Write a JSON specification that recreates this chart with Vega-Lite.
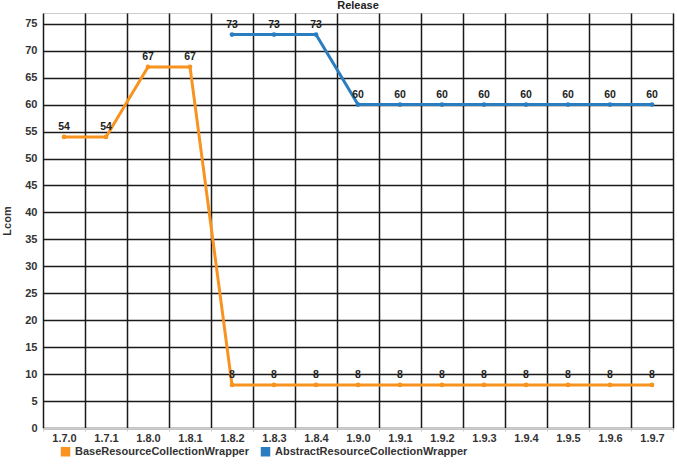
{
  "$schema": "https://vega.github.io/schema/vega-lite/v6.json",
  "width": 630,
  "height": 415,
  "autosize": {"type": "none"},
  "padding": {"left": 43, "top": 13, "right": 4, "bottom": 37},
  "background": "white",
  "title": {"text": "Release", "fontSize": 11, "font": "Liberation Sans", "fontWeight": "bold", "color": "#222", "offset": 2},
  "config": {
    "view": {"stroke": "#cccccc", "strokeWidth": 1},
    "font": "Liberation Sans"
  },
  "data": {
    "values": [
      {"release": "1.7.0", "series": "BaseResourceCollectionWrapper", "lcom": 54},
      {"release": "1.7.1", "series": "BaseResourceCollectionWrapper", "lcom": 54},
      {"release": "1.8.0", "series": "BaseResourceCollectionWrapper", "lcom": 67},
      {"release": "1.8.1", "series": "BaseResourceCollectionWrapper", "lcom": 67},
      {"release": "1.8.2", "series": "BaseResourceCollectionWrapper", "lcom": 8},
      {"release": "1.8.3", "series": "BaseResourceCollectionWrapper", "lcom": 8},
      {"release": "1.8.4", "series": "BaseResourceCollectionWrapper", "lcom": 8},
      {"release": "1.9.0", "series": "BaseResourceCollectionWrapper", "lcom": 8},
      {"release": "1.9.1", "series": "BaseResourceCollectionWrapper", "lcom": 8},
      {"release": "1.9.2", "series": "BaseResourceCollectionWrapper", "lcom": 8},
      {"release": "1.9.3", "series": "BaseResourceCollectionWrapper", "lcom": 8},
      {"release": "1.9.4", "series": "BaseResourceCollectionWrapper", "lcom": 8},
      {"release": "1.9.5", "series": "BaseResourceCollectionWrapper", "lcom": 8},
      {"release": "1.9.6", "series": "BaseResourceCollectionWrapper", "lcom": 8},
      {"release": "1.9.7", "series": "BaseResourceCollectionWrapper", "lcom": 8},
      {"release": "1.8.2", "series": "AbstractResourceCollectionWrapper", "lcom": 73},
      {"release": "1.8.3", "series": "AbstractResourceCollectionWrapper", "lcom": 73},
      {"release": "1.8.4", "series": "AbstractResourceCollectionWrapper", "lcom": 73},
      {"release": "1.9.0", "series": "AbstractResourceCollectionWrapper", "lcom": 60},
      {"release": "1.9.1", "series": "AbstractResourceCollectionWrapper", "lcom": 60},
      {"release": "1.9.2", "series": "AbstractResourceCollectionWrapper", "lcom": 60},
      {"release": "1.9.3", "series": "AbstractResourceCollectionWrapper", "lcom": 60},
      {"release": "1.9.4", "series": "AbstractResourceCollectionWrapper", "lcom": 60},
      {"release": "1.9.5", "series": "AbstractResourceCollectionWrapper", "lcom": 60},
      {"release": "1.9.6", "series": "AbstractResourceCollectionWrapper", "lcom": 60},
      {"release": "1.9.7", "series": "AbstractResourceCollectionWrapper", "lcom": 60}
    ]
  },
  "encoding": {
    "x": {
      "field": "release", "type": "ordinal",
      "scale": {"type": "band", "paddingInner": 0, "paddingOuter": 0},
      "axis": {
        "title": null, "grid": true, "gridColor": "#1a1a1a", "gridWidth": 1.5, "gridOpacity": 1,
        "tickBand": "extent", "labelAngle": 0, "labelFont": "Liberation Sans", "labelFontWeight": "bold",
        "labelFontSize": 11, "labelColor": "#333", "domainColor": "#cccccc", "tickColor": "#cccccc",
        "tickSize": 3, "labelPadding": 1
      }
    },
    "y": {
      "field": "lcom", "type": "quantitative",
      "scale": {"domain": [0, 77], "nice": false, "zero": true},
      "axis": {
        "title": "Lcom", "values": [0,5,10,15,20,25,30,35,40,45,50,55,60,65,70,75],
        "grid": true, "gridColor": "#1a1a1a", "gridWidth": 1.5, "gridOpacity": 1,
        "domain": false, "ticks": false, "labelPadding": 6,
        "labelFont": "Liberation Sans", "labelFontWeight": "bold", "labelFontSize": 11, "labelColor": "#333",
        "titleFont": "Liberation Sans", "titleFontWeight": "bold", "titleFontSize": 11, "titleColor": "#333",
        "titlePadding": 12
      }
    },
    "color": {
      "field": "series", "type": "nominal",
      "scale": {"domain": ["BaseResourceCollectionWrapper", "AbstractResourceCollectionWrapper"], "range": ["#F7931E", "#2A7DBF"]},
      "legend": {
        "title": null, "orient": "none", "legendX": 17, "legendY": 433, "direction": "horizontal",
        "symbolType": "square", "symbolSize": 90, "symbolStrokeWidth": 0, "labelLimit": 0,
        "labelFont": "Liberation Sans", "labelFontWeight": "bold", "labelFontSize": 11, "labelColor": "#333",
        "columnPadding": 10
      }
    },
    "detail": {"field": "series"}
  },
  "layer": [
    {"mark": {"type": "line", "strokeWidth": 3, "point": {"size": 22, "filled": true}}},
    {
      "mark": {"type": "text", "dy": -10, "font": "Liberation Sans", "fontWeight": "bold", "fontSize": 10.5, "color": "#222"},
      "encoding": {"text": {"field": "lcom", "type": "quantitative"}, "color": {"value": "#222"}}
    }
  ]
}
